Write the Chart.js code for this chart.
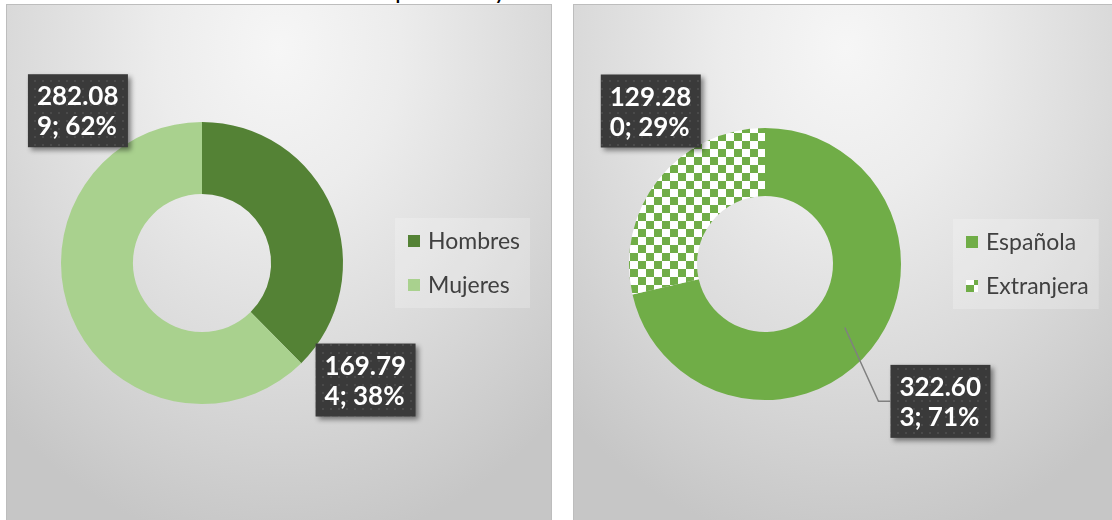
<!DOCTYPE html>
<html>
<head>
<meta charset="utf-8">
<script src="https://cdn.jsdelivr.net/npm/chart.js@4.4.1/dist/chart.umd.min.js"></script>
<style>
	html, body { margin: 0; padding: 0; background: #fff; width: 1112px; height: 520px; overflow: hidden; position: relative; }
	.title { position: absolute; top: -26px; left: 0; font: 25px Lato, sans-serif; color: #000; white-space: nowrap; }
	.panel {
		position: absolute; top: 4px; width: 544px; height: 530px;
		border: 1px solid #bdbdbd;
		background: radial-gradient(ellipse 75% 95% at 50% 8%, #f6f6f6 0%, #ececec 30%, #dadada 65%, #c6c6c6 100%);
	}
	.panel canvas { position: absolute; left: 0; top: 0; }
	#p1 { left: 6px; }
	#p2 { left: 573px; }
</style>
</head>
<body>
<div class="title" id="title">Población por sexo y nacionalidad</div>
<div class="panel" id="p1"><canvas id="c1" width="544" height="514"></canvas></div>
<div class="panel" id="p2"><canvas id="c2" width="544" height="514"></canvas></div>
<script>
const sexLabels = ['Hombres', 'Mujeres'];
const sexValues = [169794, 282089];
const natLabels = ['Española', 'Extranjera'];
const natValues = [322603, 129280];

// label box centre, in units of the outer radius, from the ring centre
const sexLabelPos = [[1.16, 0.83], [-0.88, -1.08]];
const natLabelPos = [[1.29, 1.01], [-0.84, -1.125]];

const fmt = n => String(n).replace(/\B(?=(\d{3})+(?!\d))/g, '.');

const checker = (() => {
	const c = document.createElement('canvas');
	c.width = c.height = 16;
	const g = c.getContext('2d');
	g.fillStyle = '#fff';
	g.fillRect(0, 0, 16, 16);
	g.fillStyle = '#70ad47';
	g.fillRect(0, 0, 8, 8);
	g.fillRect(8, 8, 8, 8);
	return g.createPattern(c, 'repeat');
})();

const dots = (() => {
	const c = document.createElement('canvas');
	c.width = c.height = 8;
	const g = c.getContext('2d');
	g.fillStyle = '#3a3a3a';
	g.fillRect(0, 0, 8, 8);
	g.fillStyle = '#4a4a4a';
	g.fillRect(3, 3, 2, 2);
	return g.createPattern(c, 'repeat');
})();

const decor = {
	id: 'decor',
	afterDraw(chart) {
		const ctx = chart.ctx;
		const ds = chart.data.datasets[0];
		const arcs = chart.getDatasetMeta(0).data;
		const total = ds.data.reduce((a, b) => a + b, 0);
		const cx = arcs[0].x, cy = arcs[0].y, r = arcs[0].outerRadius, ri = arcs[0].innerRadius;
		const opts = chart.options.plugins.decor;

		// legend
		ctx.save();
		ctx.font = '23px Lato, sans-serif';
		const tw = Math.max(...chart.data.labels.map(l => ctx.measureText(l).width));
		const lx = chart.chartArea.right + 52;
		const lw = 13 + 12 + 8 + tw + 10;
		ctx.fillStyle = 'rgba(255,255,255,0.22)';
		ctx.fillRect(lx, cy - 45, lw, 90);
		chart.data.labels.forEach((l, i) => {
			const y = cy - 22 + i * 44;
			ctx.fillStyle = ds.backgroundColor[i];
			ctx.fillRect(lx + 13, y - 6, 12, 12);
			ctx.fillStyle = '#404040';
			ctx.textBaseline = 'middle';
			ctx.fillText(l, lx + 33, y + 1);
		});
		ctx.restore();

		// data labels
		arcs.forEach((arc, i) => {
			const v = ds.data[i];
			const txt = fmt(v) + '; ' + Math.round(v / total * 100) + '%';
			const lines = [txt.slice(0, 6), txt.slice(6)];
			const [ox, oy] = opts.pos[i];
			const bx = cx + ox * r, by = cy + oy * r;
			const bw = 100, bh = 73;
			const left = bx - bw / 2, top = by - bh / 2;
			ctx.save();
			if (opts.leader[i]) {
				const a = (arc.startAngle + arc.endAngle) / 2;
				const rm = (r + ri) / 2;
				ctx.strokeStyle = '#808080';
				ctx.lineWidth = 1.5;
				ctx.beginPath();
				ctx.moveTo(cx + Math.cos(a) * rm, cy + Math.sin(a) * rm);
				ctx.lineTo(left - 12, by);
				ctx.lineTo(left, by);
				ctx.stroke();
			}
			ctx.shadowColor = 'rgba(0,0,0,0.45)';
			ctx.shadowBlur = 5;
			ctx.shadowOffsetX = 3;
			ctx.shadowOffsetY = 3;
			ctx.fillStyle = dots;
			ctx.fillRect(left, top, bw, bh);
			ctx.shadowColor = 'transparent';
			ctx.fillStyle = '#fff';
			ctx.font = 'bold 26px Lato, sans-serif';
			ctx.textBaseline = 'alphabetic';
			ctx.fillText(lines[0], left + 9, top + 31);
			ctx.fillText(lines[1], left + 9, top + 61);
			ctx.restore();
		});
	}
};

const donut = (id, labels, values, colors, radius, cutout, padding, pos, leader) => new Chart(document.getElementById(id), {
	type: 'doughnut',
	data: {
		labels: labels,
		datasets: [{
			data: values,
			backgroundColor: colors,
			borderWidth: 0,
			hoverOffset: 0,
			radius: radius
		}]
	},
	options: {
		responsive: false,
		animation: false,
		cutout: cutout,
		layout: { padding: padding },
		plugins: {
			legend: { display: false },
			tooltip: { enabled: false },
			decor: { pos: pos, leader: leader }
		}
	},
	plugins: [decor]
});

donut('c1', sexLabels, sexValues, ['#548235', '#a9d18e'], 141, '49%',
	{ left: 54, right: 208, top: 117, bottom: 115 }, sexLabelPos, [false, false]);
donut('c2', natLabels, natValues, ['#70ad47', checker], 136, '50%',
	{ left: 55, right: 217, top: 123, bottom: 119 }, natLabelPos, [true, false]);

// title sits above the top edge; only its descenders show
const t = document.getElementById('title');
const mc = document.createElement('canvas').getContext('2d');
mc.font = '25px Lato, sans-serif';
t.style.left = (395 - mc.measureText('Población ').width) + 'px';
</script>
</body>
</html>
